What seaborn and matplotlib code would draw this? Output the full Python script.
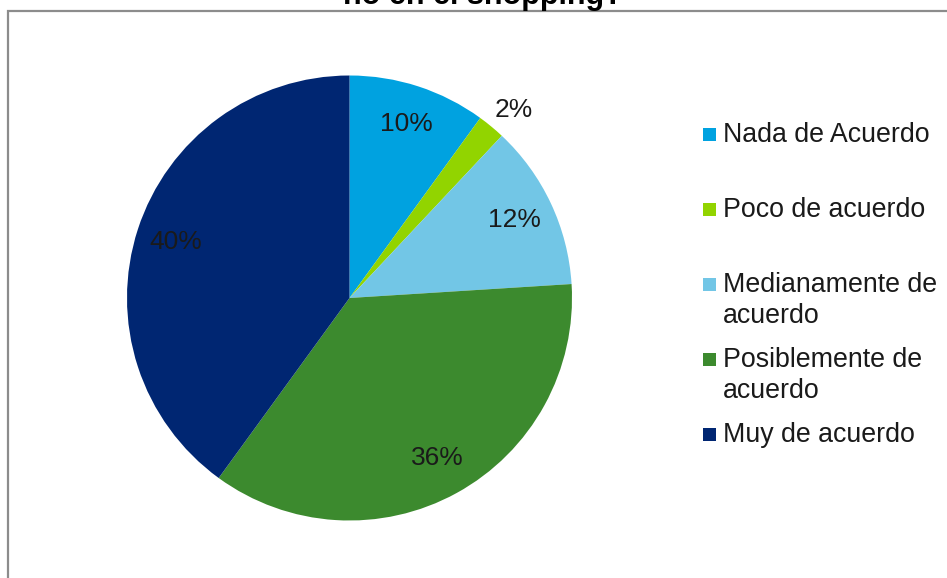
import numpy as np
import matplotlib
matplotlib.use("Agg")
import matplotlib.pyplot as plt
from matplotlib.patches import Rectangle
import seaborn as sns

# Survey answers and their share of respondents (%)
categories = ["Nada de Acuerdo", "Poco de acuerdo", "Medianamente de acuerdo",
              "Posiblemente de acuerdo", "Muy de acuerdo"]
legend_labels = ["Nada de Acuerdo", "Poco de acuerdo", "Medianamente de\nacuerdo",
                 "Posiblemente de\nacuerdo", "Muy de acuerdo"]
shares = [10, 2, 12, 36, 40]
colors = ["#00A2E0", "#92D400", "#72C6E6", "#3C8A2E", "#002672"]
title_text = "ño en el shopping?"

sns.set_theme(style="white")
plt.rcParams["font.family"] = ["Liberation Sans", "DejaVu Sans"]
palette = sns.color_palette(colors)

W, H = 947, 578
fig = plt.figure(figsize=(W / 100, H / 100), dpi=100)
fig.patch.set_facecolor("white")

# Chart frame
fig.patches.append(Rectangle((8 / W, -0.2), 1.2, 1.2 - 11 / H, transform=fig.transFigure,
                             fill=False, edgecolor="#8c8c8c", linewidth=1.6))

# Title (top line runs off the canvas)
fig.text(483 / W, 1 - 4 / H, title_text, ha="center", va="baseline",
         fontsize=22, fontweight="bold", color="black")

# Pie
cx, cy, r = 349.5, 298, 222.5
ax = fig.add_axes([(cx - r) / W, 1 - (cy + r) / H, 2 * r / W, 2 * r / H])
wedges, texts, autotexts = ax.pie(
    shares, colors=palette, startangle=90, counterclock=False,
    autopct="%1.0f%%", pctdistance=0.82, radius=1,
    wedgeprops=dict(linewidth=0), textprops=dict(fontsize=19, color="#1a1a1a"))
ax.set_xlim(-1, 1)
ax.set_ylim(-1, 1)
ax.set_aspect("equal")
ax.axis("off")

# Small slices get their label outside the pie
total = sum(shares)
cum = 0
for val, t in zip(shares, autotexts):
    mid = np.deg2rad(90 - (cum + val / 2) / total * 360)
    cum += val
    if val / total < 0.05:
        mid -= np.deg2rad(1.6)
        t.set_position((1.12 * np.cos(mid), 1.12 * np.sin(mid)))

# Legend
baselines = [142, 217, 292, 367, 442]
line_gap = 31
for lab, col, base in zip(legend_labels, palette, baselines):
    fig.patches.append(Rectangle((703 / W, 1 - (base - 1) / H), 13 / W, 13 / H,
                                 transform=fig.transFigure, facecolor=col, edgecolor="none"))
    for i, line in enumerate(lab.split("\n")):
        fig.text(723 / W, 1 - (base + i * line_gap) / H, line, ha="left", va="baseline",
                 fontsize=19.3, color="#1a1a1a")

fig.savefig("out.png", dpi=100, facecolor="white")
